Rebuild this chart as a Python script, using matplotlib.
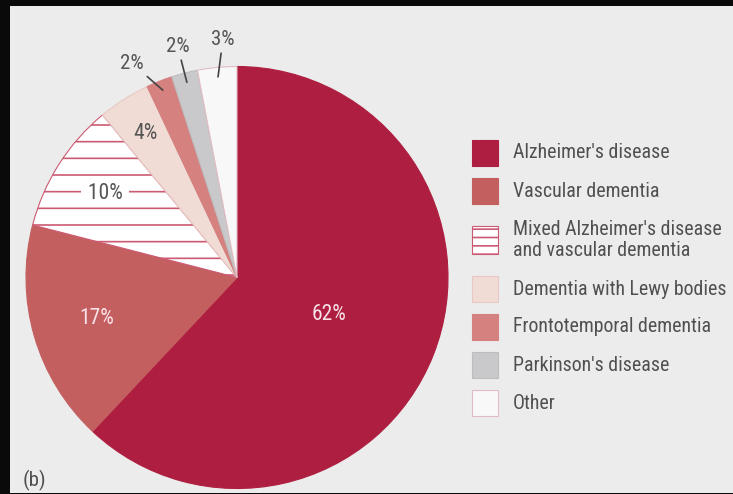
import numpy as np
import matplotlib
matplotlib.use("Agg")
import matplotlib.pyplot as plt
from matplotlib.patches import Rectangle

plt.rcParams['font.family'] = ['Roboto Condensed', 'DejaVu Sans']
plt.rcParams['hatch.linewidth'] = 1.2

# causes of dementia (share of cases, %)
causes = ["Alzheimer's disease", "Vascular dementia",
          "Mixed Alzheimer's disease\nand vascular dementia",
          "Dementia with Lewy bodies", "Frontotemporal dementia",
          "Parkinson's disease", "Other"]
shares = [62, 17, 10, 4, 2, 2, 3]

colores = ['#ae1e40', '#c45f60', '#ffffff', '#f1dcd5', '#d4817f', '#c9c9cb', '#f9f8f8']
bordas = ['#ae1e40', '#c45f60', '#cc5a72', '#e8c8c4', '#d4817f', '#bdbdbf', '#e2bcc2']
hachuras = [None, None, '-', None, None, None, None]

W, H = 733, 494
fig = plt.figure(figsize=(W / 100, H / 100), dpi=100, facecolor='#0a0a0a')

# painel cinza claro
fig.add_artist(Rectangle((10 / W, 1 / H), 1 - 10 / W, 1 - 7 / H,
                         transform=fig.transFigure, facecolor='#ececec',
                         edgecolor='none', zorder=0))

# eixo da pizza: centro (237, 277.5) px, raio 211 px
cx, cy, r = 237, 277.5, 211
ax = fig.add_axes([(cx - r) / W, 1 - (cy + r) / H, 2 * r / W, 2 * r / H])
ax.set_facecolor('none')

wedges, _ = ax.pie(shares, startangle=90, counterclock=False, colors=colores,
                   radius=1, wedgeprops=dict(linewidth=0.8))
for w, b, h in zip(wedges, bordas, hachuras):
    w.set_edgecolor(b)
    if h:
        w.set_hatch(h)
ax.set_xlim(-1, 1)
ax.set_ylim(-1, 1)
ax.set_aspect('equal')
ax.axis('off')

# angulo medio de cada fatia (horario a partir do topo)
fim = np.cumsum(shares)
meio = (fim - np.array(shares) / 2) / sum(shares) * 2 * np.pi

def ponto(ang, raio):
    return raio * np.sin(ang), raio * np.cos(ang)

# rotulos dentro das fatias
dentro = {0: (0.47, '#f8e2e8'), 1: (0.69, '#f8e2e8'), 2: (0.74, '#555555'), 3: (0.81, '#555555')}
for i, (raio, cor) in dentro.items():
    x, y = ponto(meio[i], raio)
    rotulo = f"{shares[i]}%"
    kw = {}
    if hachuras[i]:
        # fundo branco so para cortar as linhas da hachura
        rotulo = f" {rotulo} "
        kw['bbox'] = dict(facecolor='white', edgecolor='none', pad=1)
    ax.text(x, y, rotulo, ha='center', va='center', fontsize=15.5,
            color=cor, **kw)

# rotulos de fora com linha de chamada
ajuste = {4: -4.5, 5: 0.0, 6: 2.0}
for i, da in ajuste.items():
    xy = ponto(meio[i], 0.955)
    xt = ponto(meio[i] + np.radians(da), 1.13)
    ax.annotate(f"{shares[i]}%", xy=xy, xytext=xt, ha='center', va='center',
                fontsize=15, color='#555555', annotation_clip=False,
                arrowprops=dict(arrowstyle='-', color='#444444', lw=1.2,
                                shrinkA=1, shrinkB=0))

# legenda desenhada a mao
lx, lado, tx = 472, 26, 513
y = 153
prev = 1
for i, nome in enumerate(causes):
    n = nome.count('\n') + 1
    if i > 0:
        y += 38 + 11 * ((prev - 1) + (n - 1))
    prev = n
    alto = lado + 2 if hachuras[i] else lado
    rect = Rectangle((lx / W, 1 - (y + alto / 2) / H), lado / W, alto / H,
                     transform=fig.transFigure, facecolor=colores[i],
                     edgecolor=bordas[i], linewidth=0.8,
                     hatch='--' if hachuras[i] else None)
    fig.add_artist(rect)
    fig.text(tx / W, 1 - y / H, nome, ha='left', va='center', fontsize=14.3,
             color='#505050', linespacing=1.15)

fig.text(34 / W, 1 - 480 / H, "(b)", ha='center', va='center', fontsize=15,
         color='#505050')

fig.savefig('out.png', dpi=100, facecolor=fig.get_facecolor())
